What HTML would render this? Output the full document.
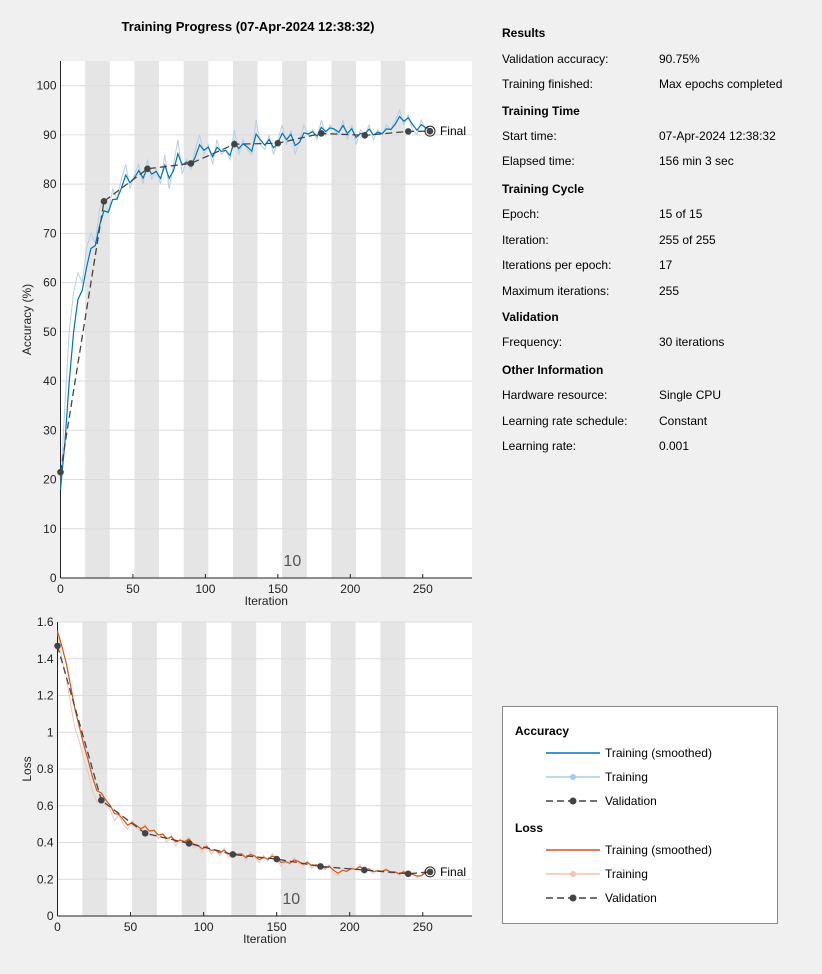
<!DOCTYPE html>
<html><head><meta charset="utf-8">
<style>
body{margin:0;width:822px;height:974px;background:#f0f0f0;font-family:"Liberation Sans",sans-serif;position:relative;overflow:hidden}
.info{position:absolute;font-size:12px;color:#000;white-space:nowrap}
.h{font-weight:bold}
#legend{position:absolute;left:502px;top:706px;width:274px;height:216px;background:#fff;border:1px solid #888}
svg{position:absolute;left:0;top:0}
</style></head><body>
<svg id="chart" width="822" height="974"></svg>
<div id="info"></div>
<div id="legend">
<svg width="274" height="216">
<text x="12" y="28" font-size="12" font-weight="bold">Accuracy</text>
<g><line x1="43" x2="97" y1="46" y2="46" stroke="#0072bd" stroke-width="1.5"/><text x="102" y="50" font-size="12">Training (smoothed)</text></g>
<g><line x1="43" x2="97" y1="70" y2="70" stroke="#a6cbe8" stroke-width="1.5"/><circle cx="70" cy="70" r="3" fill="#a6cbe8"/><text x="102" y="74" font-size="12">Training</text></g>
<g><line x1="43" x2="97" y1="94" y2="94" stroke="#444" stroke-width="1.5" stroke-dasharray="7,4"/><circle cx="70" cy="94" r="3.5" fill="#444"/><text x="102" y="98" font-size="12">Validation</text></g>
<text x="12" y="125" font-size="12" font-weight="bold">Loss</text>
<g><line x1="43" x2="97" y1="143" y2="143" stroke="#d95319" stroke-width="1.5"/><text x="102" y="147" font-size="12">Training (smoothed)</text></g>
<g><line x1="43" x2="97" y1="167" y2="167" stroke="#f0c4b0" stroke-width="1.5"/><circle cx="70" cy="167" r="3" fill="#f0c4b0"/><text x="102" y="171" font-size="12">Training</text></g>
<g><line x1="43" x2="97" y1="191" y2="191" stroke="#444" stroke-width="1.5" stroke-dasharray="7,4"/><circle cx="70" cy="191" r="3.5" fill="#444"/><text x="102" y="195" font-size="12">Validation</text></g>
</svg></div>
<script>
const accRaw=[18,35,50,58,62,60,67,70,68,75,77,74,79,77,81,84,79,82,84,80,85,81,83,80,86,79,84,89,82,85,83,87,90,86,88,84,89,86,87,85,91,86,89,87,86,93,88,87,90,86,89,92,88,91,86,89,92,90,91,89,93,90,92,91,90,93,89,92,88,91,90,92,89,91,90,92,91,93,95,92,94,91,90,93,91,91];
const lossRaw=[1.55,1.40,1.30,1.15,1.02,0.95,0.85,0.78,0.68,0.62,0.66,0.60,0.58,0.52,0.55,0.50,0.47,0.52,0.48,0.46,0.50,0.44,0.47,0.42,0.45,0.40,0.44,0.38,0.42,0.40,0.43,0.37,0.38,0.35,0.39,0.34,0.36,0.33,0.37,0.32,0.35,0.33,0.34,0.30,0.35,0.32,0.29,0.33,0.30,0.34,0.31,0.27,0.30,0.28,0.32,0.29,0.27,0.30,0.26,0.28,0.27,0.25,0.28,0.23,0.22,0.26,0.24,0.27,0.25,0.28,0.24,0.26,0.23,0.25,0.24,0.26,0.23,0.24,0.22,0.25,0.21,0.23,0.21,0.22,0.25,0.24];
const valIters=[0,30,60,90,120,150,180,210,240,255];
const accVal=[21.5,76.5,83.1,84.2,88.1,88.3,90.3,89.9,90.7,90.75];
const lossVal=[1.47,0.63,0.45,0.395,0.335,0.31,0.27,0.25,0.23,0.24];
const accTicks=[0,10,20,30,40,50,60,70,80,90,100];
const lossTicks=[0,0.2,0.4,0.6,0.8,1,1.2,1.4,1.6];
const xTicks=[0,50,100,150,200,250];
const infoRows=[["h","Results",33],["Validation accuracy:","90.75%",59],["Training finished:","Max epochs completed",84],["h","Training Time",111],["Start time:","07-Apr-2024 12:38:32",136],["Elapsed time:","156 min 3 sec",161],["h","Training Cycle",189],["Epoch:","15 of 15",214],["Iteration:","255 of 255",240],["Iterations per epoch:","17",265],["Maximum iterations:","255",291],["h","Validation",317],["Frequency:","30 iterations",342],["h","Other Information",370],["Hardware resource:","Single CPU",395],["Learning rate schedule:","Constant",421],["Learning rate:","0.001",446]];
const info=document.getElementById('info');
infoRows.forEach(r=>{
  const d=document.createElement('div');d.className='info'+(r[0]==='h'?' h':'');
  
  
  d.style.left='502px';d.style.top=(r[2]-7)+'px';
  d.textContent=r[0]==='h'?r[1]:r[0];info.appendChild(d);
  if(r[0]!=='h'){const v=document.createElement('div');v.className='info';
    
    
    v.style.left='659px';v.style.top=(r[2]-7)+'px';v.textContent=r[1];info.appendChild(v);}
});
const NS='http://www.w3.org/2000/svg';
const svg=document.getElementById('chart');
function el(t,a,p){const e=document.createElementNS(NS,t);for(const k in a)e.setAttribute(k,a[k]);(p||svg).appendChild(e);return e;}
const iters=accRaw.map((_,i)=>i*3);
function ema(a){let s=a[0];return a.map(v=>s=s*0.45+v*0.55);}
function panel(o){
  const g=el('g',{});
  
  
  const X=v=>o.L+v/o.xmax*(o.R-o.L), Y=v=>o.B-v/o.ymax*(o.B-o.T);
  el('rect',{x:o.L,y:o.T,width:o.R-o.L,height:o.B-o.T,fill:'#fff'},g);
  for(let e=1;e<15;e+=2){const r=el('rect',{x:X(e*17),y:o.T,width:X(17)-X(0),height:o.B-o.T,fill:'#e5e5e5'},g);
    
    }
  o.ticks.forEach(t=>{el('line',{x1:o.L,x2:o.R,y1:Y(t),y2:Y(t),stroke:'#dcdcdc','stroke-width':1},g);
    const tx=el('text',{x:o.L-4,y:Y(t)+4,'font-size':12,'text-anchor':'end',fill:'#222'},g);tx.textContent=t;
    
    });
  xTicks.forEach(t=>{const tx=el('text',{x:X(t),y:o.B+15,'font-size':12,'text-anchor':'middle',fill:'#222'},g);tx.textContent=t;
    
    
    el('line',{x1:X(t),x2:X(t),y1:o.B,y2:o.B-4,stroke:'#222'},g);});
  el('line',{x1:o.L,x2:o.R,y1:o.B,y2:o.B,stroke:'#222'},g);
  el('line',{x1:o.L,x2:o.L,y1:o.T,y2:o.B,stroke:'#222'},g);
  const pts=(xs,ys)=>xs.map((x,i)=>X(x)+','+Y(ys[i])).join(' ');
  const raw=el('polyline',{points:pts(iters,o.raw),fill:'none',stroke:o.light,'stroke-width':1},g);
  
  
  const sm=el('polyline',{points:pts(iters,ema(o.raw)),fill:'none',stroke:o.dark,'stroke-width':1.2},g);
  
  
  const vl=el('polyline',{points:pts(valIters,o.val),fill:'none',stroke:'#444','stroke-width':1.3,'stroke-dasharray':'7,4'},g);
  
  
  valIters.forEach((x,i)=>{const c=el('circle',{cx:X(x),cy:Y(o.val[i]),r:3.3,fill:'#444'},g);
    
    });
  const n=valIters.length-1;
  el('circle',{cx:X(valIters[n]),cy:Y(o.val[n]),r:5,fill:'none',stroke:'#222'},g);
  const f=el('text',{x:X(valIters[n])+10,y:Y(o.val[n])+4,'font-size':12},g);f.textContent='Final';
  
  
  const ten=el('text',{x:X(160),y:o.B-12,'font-size':16,'text-anchor':'middle',fill:'#555'},g);ten.textContent='10';
  const xl=el('text',{x:(o.L+o.R)/2,y:o.B+27,'font-size':12,'text-anchor':'middle',fill:'#222'},g);xl.textContent='Iteration';
  
  
  const yl=el('text',{x:0,y:0,'font-size':12,'text-anchor':'middle',fill:'#222',transform:`translate(31,${(o.T+o.B)/2}) rotate(-90)`},g);yl.textContent=o.ylabel;
  
  
}
panel({name:'accuracy-plot',L:60.5,R:472,T:61,B:578,xmax:284,ymax:105,ticks:accTicks,raw:accRaw,val:accVal,light:'#b4d0e6',dark:'#0072bd',ylabel:'Accuracy (%)'});
panel({name:'loss-plot',L:57.5,R:472,T:622,B:916,xmax:283.7,ymax:1.6,ticks:lossTicks,raw:lossRaw,val:lossVal,light:'#f0c8b6',dark:'#d95319',ylabel:'Loss'});
const t=el('text',{x:248,y:31,'font-size':13,'font-weight':'bold','text-anchor':'middle'});t.textContent='Training Progress (07-Apr-2024 12:38:32)';


</script>
</body></html>
